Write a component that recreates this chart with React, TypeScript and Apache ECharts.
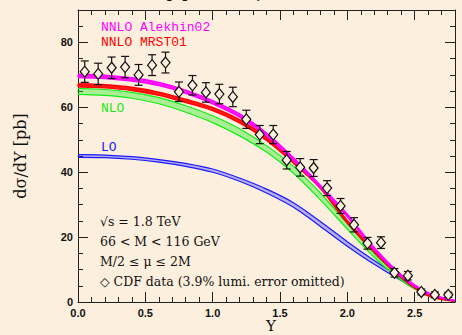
import React, { useEffect, useRef } from "react";
import * as echarts from "echarts";

// Theory curves sampled on a Y grid
const gridY = [0, 0.2, 0.4, 0.6, 0.8, 1.0, 1.2, 1.4, 1.6, 1.8, 2.0, 2.2, 2.4, 2.6, 2.8];

const alekhinUpper = [70.2, 69.9, 69.1, 67.7, 65.3, 62.1, 58.0, 52.1, 44.5, 36.0, 27.1, 16.8, 8.5, 2.9, 0.5];
const alekhinLower = [69.2, 68.9, 68.1, 66.7, 64.3, 61.1, 57.0, 51.1, 43.5, 35.2, 26.3, 16.0, 7.9, 2.5, 0.3];

const mrstUpper = [67.3, 67.0, 66.2, 64.7, 62.5, 60.0, 56.2, 50.8, 43.8, 35.8, 25.1, 15.9, 8.0, 2.2, 0.3];
const mrstLower = [66.3, 66.0, 65.2, 63.7, 61.5, 59.0, 55.2, 49.8, 42.8, 35.0, 24.3, 15.3, 7.5, 1.9, 0.2];

const nloUpper = [65.8, 65.5, 64.6, 63.0, 60.5, 57.4, 53.4, 48.2, 41.8, 33.6, 24.2, 14.9, 7.4, 2.4, 0.3];
const nloLower = [64.0, 63.7, 62.8, 61.1, 58.5, 55.3, 51.2, 46.2, 39.7, 31.5, 22.5, 13.8, 6.7, 2.0, 0.2];

const loUpper = [45.4, 45.3, 44.8, 43.9, 42.7, 41.0, 38.2, 34.8, 30.6, 24.8, 18.6, 12.8, 7.4, 2.6, 0.4];
const loLower = [44.6, 44.5, 44.0, 43.1, 41.8, 40.0, 37.2, 33.6, 29.2, 23.3, 17.2, 11.6, 6.6, 2.1, 0.2];

// CDF data
const dataY = [0.05, 0.15, 0.25, 0.35, 0.45, 0.55, 0.65, 0.75, 0.85, 0.95, 1.05, 1.15, 1.25, 1.35,
  1.45, 1.55, 1.65, 1.75, 1.85, 1.95, 2.05, 2.15, 2.25, 2.35, 2.45, 2.55, 2.65, 2.75];
const dataV = [71.0, 70.3, 72.2, 72.4, 70.0, 73.0, 73.8, 64.8, 66.8, 64.6, 64.1, 63.2, 56.3, 51.6,
  51.6, 43.7, 41.5, 41.3, 35.1, 29.6, 23.8, 18.1, 18.3, 9.0, 8.1, 3.1, 2.2, 2.2];
const dataErr = [3.3, 3.3, 3.3, 3.3, 3.2, 3.2, 3.2, 3.0, 3.0, 3.0, 3.0, 3.0, 2.8, 2.8,
  2.8, 2.7, 2.7, 2.6, 2.3, 2.3, 2.2, 1.8, 1.8, 1.3, 1.3, 0.9, 0.9, 0.8];

const xTickLabels = ["0.0", "0.5", "1.0", "1.5", "2.0", "2.5"];
const yTickLabels = ["0", "20", "40", "60", "80"];

const BG = "#fcefdd";
const AX = "#222";

function band(key: string, lower: number[], upper: number[], color: string, fillOpacity: number, lw: number, z: number) {
  const line = (name: string, vals: number[]) => ({
    type: "line",
    name,
    data: gridY.map((x, i) => [x, vals[i]]),
    smooth: 0.35,
    symbol: "none",
    lineStyle: { color, width: lw },
    z,
  });
  return [
    {
      type: "custom",
      name: key + "-fill",
      data: [[0, 0]],
      encode: { x: 0, y: 1 },
      z,
      renderItem: (params: any, api: any) => {
        const pts: number[][] = [];
        gridY.forEach((x, i) => pts.push(api.coord([x, upper[i]])));
        for (let i = gridY.length - 1; i >= 0; i--) pts.push(api.coord([gridY[i], lower[i]]));
        return {
          type: "polygon",
          shape: { points: pts, smooth: 0.3 },
          style: { fill: color, opacity: fillOpacity, stroke: "none" },
        };
      },
    },
    line(key + "-lo", lower),
    line(key + "-hi", upper),
  ];
}

function xAxisDef(position: "bottom" | "top", major: boolean) {
  return {
    type: "value",
    position,
    min: 0,
    max: 2.8,
    interval: major ? 0.5 : 0.1,
    axisLine: { show: major, onZero: false, lineStyle: { color: AX, width: 1 } },
    axisTick: { show: true, inside: true, length: major ? 10 : 5, lineStyle: { color: AX, width: 1 } },
    axisLabel: {
      show: major && position === "bottom",
      margin: 5,
      color: "#111",
      fontFamily: "Liberation Sans",
      fontWeight: "bold",
      fontSize: 11,
      formatter: (v: number) => {
        const idx = Math.round(v / 0.5);
        return Math.abs(v - idx * 0.5) < 1e-6 && idx < xTickLabels.length ? xTickLabels[idx] : "";
      },
    },
    splitLine: { show: false },
  };
}

function yAxisDef(position: "left" | "right", major: boolean) {
  return {
    type: "value",
    position,
    min: 0,
    max: 90,
    interval: major ? 20 : 5,
    axisLine: { show: major, onZero: false, lineStyle: { color: AX, width: 1 } },
    axisTick: { show: true, inside: true, length: major ? 10 : 5, lineStyle: { color: AX, width: 1 } },
    axisLabel: {
      show: major && position === "left",
      margin: 5,
      color: "#111",
      fontFamily: "Liberation Sans",
      fontWeight: "bold",
      fontSize: 11,
      formatter: (v: number) => {
        const idx = Math.round(v / 20);
        return Math.abs(v - idx * 20) < 1e-6 && idx < yTickLabels.length ? yTickLabels[idx] : "";
      },
    },
    splitLine: { show: false },
  };
}

export default function App() {
  const ref = useRef<HTMLDivElement>(null);
  useEffect(() => {
    const chart = echarts.init(ref.current!, null, { renderer: "svg" });
    const mono = "13px 'Liberation Mono'";
    const serif = "12.5px 'DejaVu Serif'";
    const option: any = {
      animation: false,
      backgroundColor: BG,
      grid: { left: 78, right: 7, top: 10, bottom: 33, containLabel: false },
      xAxis: [xAxisDef("bottom", true), xAxisDef("bottom", false), xAxisDef("top", true), xAxisDef("top", false)],
      yAxis: [yAxisDef("left", true), yAxisDef("left", false), yAxisDef("right", true), yAxisDef("right", false)],
      series: [
        ...band("lo", loLower, loUpper, "#1a1aff", 0.3, 1.2, 2),
        ...band("nlo", nloLower, nloUpper, "#11ee11", 0.35, 1.2, 3),
        ...band("mrst", mrstLower, mrstUpper, "#ff0000", 0.9, 1.4, 4),
        ...band("alekhin", alekhinLower, alekhinUpper, "#ff00ff", 0.9, 1.4, 5),
        {
          type: "custom",
          name: "CDF",
          data: dataY.map((x, i) => [x, dataV[i], dataErr[i]]),
          encode: { x: 0, y: 1 },
          z: 10,
          renderItem: (params: any, api: any) => {
            const x = api.value(0);
            const y = api.value(1);
            const e = api.value(2);
            const c = api.coord([x, y]);
            const t = api.coord([x, y + e]);
            const b = api.coord([x, y - e]);
            const h = 5.5;
            const w = 4.5;
            const cap = 4;
            const st = { stroke: "#111", lineWidth: 1.2, fill: "none" };
            const children: any[] = [];
            if (t[1] < c[1] - h) {
              children.push({ type: "line", shape: { x1: c[0], y1: t[1], x2: c[0], y2: c[1] - h }, style: st });
            }
            if (b[1] > c[1] + h) {
              children.push({ type: "line", shape: { x1: c[0], y1: c[1] + h, x2: c[0], y2: b[1] }, style: st });
            }
            children.push({ type: "line", shape: { x1: c[0] - cap, y1: t[1], x2: c[0] + cap, y2: t[1] }, style: st });
            children.push({ type: "line", shape: { x1: c[0] - cap, y1: b[1], x2: c[0] + cap, y2: b[1] }, style: st });
            children.push({
              type: "polygon",
              shape: { points: [[c[0], c[1] - h], [c[0] + w, c[1]], [c[0], c[1] + h], [c[0] - w, c[1]]] },
              style: { stroke: "#111", lineWidth: 1.2, fill: BG },
            });
            return { type: "group", children };
          },
        },
      ],
      graphic: [
        { type: "text", x: 255, y: -9, style: { text: "p p̄  →  (Z, γ*)  →  l⁺ l⁻", font: "16px 'DejaVu Serif'", fill: "#111", align: "center", verticalAlign: "middle" }, z: 20 },
        { type: "text", x: 101, y: 27, style: { text: "NNLO Alekhin02", font: mono, fill: "#ff00ff", verticalAlign: "middle" }, z: 20 },
        { type: "text", x: 101, y: 42, style: { text: "NNLO MRST01", font: mono, fill: "#ff0000", verticalAlign: "middle" }, z: 20 },
        { type: "text", x: 101, y: 108.5, style: { text: "NLO", font: mono, fill: "#11ee11", verticalAlign: "middle" }, z: 20 },
        { type: "text", x: 101, y: 147.5, style: { text: "LO", font: mono, fill: "#1a1aff", verticalAlign: "middle" }, z: 20 },
        { type: "text", x: 100, y: 221, style: { text: "√s = 1.8 TeV", font: serif, fill: "#111", verticalAlign: "middle" }, z: 20 },
        { type: "text", x: 100, y: 241, style: { text: "66 < M < 116 GeV", font: serif, fill: "#111", verticalAlign: "middle" }, z: 20 },
        { type: "text", x: 100, y: 261, style: { text: "M/2 ≤ μ ≤ 2M", font: serif, fill: "#111", verticalAlign: "middle" }, z: 20 },
        { type: "text", x: 100, y: 281, style: { text: "◇ CDF data (3.9% lumi. error omitted)", font: serif, fill: "#111", verticalAlign: "middle" }, z: 20 },
        { type: "text", x: 20, y: 156, rotation: Math.PI / 2, style: { text: "dσ/dY [pb]", font: "16px 'DejaVu Serif'", fill: "#111", align: "center", verticalAlign: "middle" }, z: 20 },
        { type: "text", x: 271, y: 326, style: { text: "Y", font: "15px 'DejaVu Serif'", fill: "#111", align: "center", verticalAlign: "middle" }, z: 20 },
      ],
    };
    chart.setOption(option);
    return () => chart.dispose();
  }, []);
  return <div ref={ref} style={{ position: "absolute", left: 0, top: 0, width: 462, height: 335 }} />;
}
